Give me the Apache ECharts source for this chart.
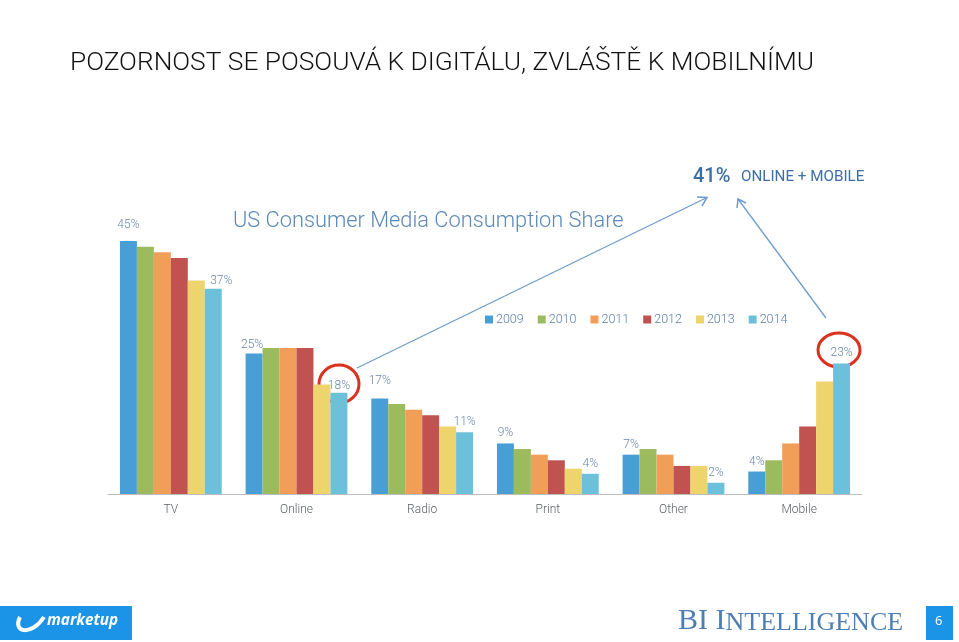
<!DOCTYPE html>
<html>
<head>
<meta charset="utf-8">
<style>
html,body{margin:0;padding:0;background:#fff;}
#chart{width:959px;height:642px;}
</style>
<script src="https://cdn.jsdelivr.net/npm/echarts@6/dist/echarts.min.js"></script>
</head>
<body>
<div id="chart"></div>
<script>
var categories = ['TV', 'Online', 'Radio', 'Print', 'Other', 'Mobile'];
var years = ['2009', '2010', '2011', '2012', '2013', '2014'];
var s2009 = [45, 25, 17, 9, 7, 4];
var s2010 = [44, 26, 16, 8, 8, 6];
var s2011 = [43, 26, 15, 7, 7, 9];
var s2012 = [42, 26, 14, 6, 5, 12];
var s2013 = [38, 19.5, 12, 4.5, 5, 20];
var s2014 = [36.5, 18, 11, 3.6, 2, 23.2];
// labels shown on the chart: [series index, category index, text]
var labelItems = [
  [0, 0, '45%'], [5, 0, '37%'],
  [0, 1, '25%'], [5, 1, '18%'],
  [0, 2, '17%'], [5, 2, '11%'],
  [0, 3, '9%'],  [5, 3, '4%'],
  [0, 4, '7%'],  [5, 4, '2%'],
  [0, 5, '4%'],  [5, 5, '23%']
];
var colors = ['#4A9ED6', '#9BBB5E', '#F09E58', '#C0524F', '#EDD46C', '#6DC0DA'];
var seriesData = [s2009, s2010, s2011, s2012, s2013, s2014];

var labelStyle = {color: '#6a86a8', fontSize: 12, fontFamily: 'Roboto', fontWeight: 300};

var series = years.map(function (y, si) {
  return {
    name: y,
    type: 'bar',
    barGap: '0%',
    barCategoryGap: '19%',
    itemStyle: {color: colors[si]},
    data: seriesData[si].map(function (v, ci) {
      var item = {value: v};
      labelItems.forEach(function (l) {
        if (l[0] === si && l[1] === ci) {
          item.label = {show: true, position: 'top', distance: 4, formatter: l[2]};
        }
      });
      return item;
    }),
    label: Object.assign({show: false}, labelStyle),
    animation: false
  };
});
// fine-tune a few label offsets
series[0].data[0].label.distance = 10;
series[5].data[0].label.offset = [8, 2];
series[0].data[1].label.offset = [-2, 1];
series[0].data[2].label.distance = 11;
series[5].data[1].label.distance = 1;
series[5].data[5].label.distance = 5;

var chart = echarts.init(document.getElementById('chart'), null, {renderer: 'canvas'});
chart.setOption({
  backgroundColor: '#ffffff',
  animation: false,
  title: {
    text: 'POZORNOST SE POSOUVÁ K DIGITÁLU, ZVLÁŠTĚ K MOBILNÍMU',
    left: 65, top: 45,
    textStyle: {fontFamily: 'Roboto', fontWeight: 300, fontSize: 26.3, color: '#111'}
  },
  legend: {
    data: years,
    left: 480, top: 308,
    itemWidth: 8, itemHeight: 8, itemGap: 14,
    icon: 'rect',
    textStyle: {color: '#5c7ea6', fontSize: 12.5, fontFamily: 'Roboto', fontWeight: 300, padding: [0, 0, 0, -2]}
  },
  grid: {left: 108, right: 97, top: 213, bottom: 148},
  xAxis: {
    type: 'category',
    data: categories,
    axisLine: {lineStyle: {color: '#bdbdbd', width: 1}},
    axisTick: {show: false},
    axisLabel: {color: '#5a5f66', fontSize: 12, fontFamily: 'Roboto', fontWeight: 300, margin: 10}
  },
  yAxis: {
    type: 'value', min: 0, max: 50, show: false,
    splitLine: {show: false}
  },
  series: series,
  graphic: [
    {type: 'text', left: 233, top: 211, style: {text: 'US Consumer Media Consumption Share', fill: '#5b89b8', font: '300 21.8px Roboto'}},
    {type: 'text', left: 693, top: 167, style: {text: '41%', fill: '#3c6ea6', font: '500 20px Roboto'}},
    {type: 'text', left: 741, top: 170, style: {text: 'ONLINE + MOBILE', fill: '#3c6ea6', font: '400 15.2px "Roboto"'}},
    // red circles
    {type: 'ellipse', shape: {cx: 339, cy: 384, rx: 20, ry: 19}, style: {fill: 'none', stroke: '#d9321f', lineWidth: 3}},
    {type: 'ellipse', shape: {cx: 839, cy: 350, rx: 21, ry: 17}, style: {fill: 'none', stroke: '#d9321f', lineWidth: 3}},
    // arrows
    {type: 'line', shape: {x1: 357, y1: 368, x2: 706, y2: 198}, style: {stroke: '#6f9dcc', lineWidth: 1.3}},
    {type: 'polyline', shape: {points: [[697, 197], [707, 197.5], [702, 206]]}, style: {stroke: '#6f9dcc', lineWidth: 1.5, fill: 'none'}},
    {type: 'line', shape: {x1: 826, y1: 318, x2: 738, y2: 199}, style: {stroke: '#6f9dcc', lineWidth: 1.3}},
    {type: 'polyline', shape: {points: [[737, 208], [738, 199], [746, 203]]}, style: {stroke: '#6f9dcc', lineWidth: 1.5, fill: 'none'}},
    // footer: marketup logo
    {type: 'rect', shape: {x: 0, y: 606, width: 132, height: 34}, style: {fill: '#1b93e6'}},
    {type: 'text', left: 47, top: 613, style: {text: 'marketup', fill: '#ffffff', font: 'italic 700 15.3px "Open Sans"'}},
    {type: 'bezierCurve', shape: {x1: 20, y1: 617, cpx1: 12, cpy1: 633, cpx2: 32, cpy2: 636, x2: 44, y2: 617}, style: {stroke: '#ffffff', lineWidth: 4, fill: 'none'}},
    // BI Intelligence
    {type: 'text', left: 678, top: 606, style: {
      text: '{b|BI I}{s|NTELLIGENCE}',
      rich: {
        b: {fill: '#4d7fb5', fontFamily: 'Liberation Serif', fontSize: 30, verticalAlign: 'bottom', lineHeight: 31},
        s: {fill: '#4d7fb5', fontFamily: 'Liberation Serif', fontSize: 26, verticalAlign: 'bottom', lineHeight: 31}
      }
    }},
    {type: 'rect', shape: {x: 926, y: 606, width: 27, height: 34}, style: {fill: '#1b93e6'}},
    {type: 'text', left: 935, top: 615, style: {text: '6', fill: '#ffffff', font: '13px "Open Sans"'}}
  ]
});
</script>
</body>
</html>
